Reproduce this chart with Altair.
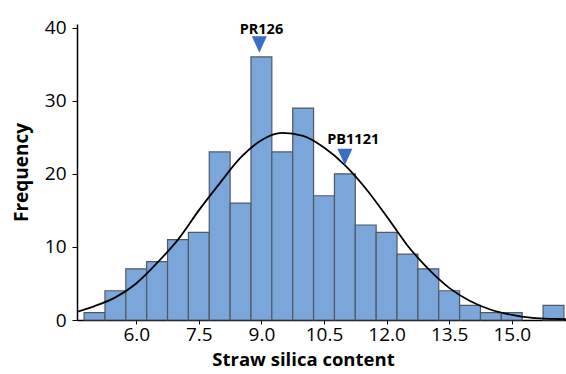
import altair as alt
import pandas as pd

# Histogram bins (centers, width 0.5) and counts
bin_centers = [5.0, 5.5, 6.0, 6.5, 7.0, 7.5, 8.0, 8.5, 9.0, 9.5, 10.0, 10.5,
               11.0, 11.5, 12.0, 12.5, 13.0, 13.5, 14.0, 14.5, 15.0, 15.5, 16.0]
counts = [1, 4, 7, 8, 11, 12, 23, 16, 36, 23, 29, 17,
          20, 13, 12, 9, 7, 4, 2, 1, 1, 0, 2]

# Fitted normal curve
curve_x = [4.58, 5.0, 5.5, 6.0, 6.5, 7.0, 7.5, 8.0, 8.5, 9.0, 9.5, 10.0, 10.5,
           11.0, 11.5, 12.0, 12.5, 13.0, 13.5, 14.0, 14.5, 15.0, 15.5, 16.0, 16.3]
curve_y = [1.1, 1.9, 3.1, 5.0, 7.8, 11.0, 15.0, 18.7, 22.2, 24.6, 25.6, 25.2, 23.6,
           21.2, 18.0, 14.2, 10.2, 7.0, 4.4, 2.6, 1.4, 0.7, 0.3, 0.15, 0.1]

# Annotations
ann_names = ["PR126", "PB1121"]
ann_marker_x = [8.95, 11.0]
ann_marker_y = [37.7, 22.3]
ann_label_x = [9.0, 11.2]
ann_label_y = [39.7, 24.6]

hist = pd.DataFrame({"c": bin_centers, "n": counts})
curve = pd.DataFrame({"x": curve_x, "y": curve_y})
ann = pd.DataFrame({"name": ann_names, "mx": ann_marker_x, "my": ann_marker_y,
                    "lx": ann_label_x, "ly": ann_label_y})

FONT = "Open Sans"
xscale = alt.Scale(domain=[4.58, 16.3], nice=False, zero=False)
yscale = alt.Scale(domain=[0, 40.5], nice=False)

bars = alt.Chart(hist).transform_filter("datum.n > 0").transform_calculate(
    x0="datum.c - 0.25", x1="datum.c + 0.25"
).mark_rect(fill="#7ba6d9", stroke="#4f5965", strokeWidth=1.2).encode(
    x=alt.X("x0:Q", scale=xscale,
            axis=alt.Axis(values=[6.0, 7.5, 9.0, 10.5, 12.0, 13.5, 15.0], format=".1f",
                          title="Straw silica content", grid=False,
                          domainColor="black", domainWidth=1.5, tickColor="black",
                          tickSize=4, labelFontSize=19, labelFont=FONT, labelColor="black",
                          labelPadding=1, titleFont=FONT, titleFontSize=18.5,
                          titleFontWeight="bold", titleColor="black", titlePadding=6,
                          titleX=226)),
    x2="x1:Q",
    y=alt.Y("n:Q", scale=yscale,
            axis=alt.Axis(values=[0, 10, 20, 30, 40], title="Frequency", grid=False,
                          domainColor="black", domainWidth=1.5, tickColor="black",
                          tickSize=5, labelFontSize=19, labelFont=FONT, labelColor="black",
                          labelPadding=6, titleFont=FONT, titleFontSize=19,
                          titleFontWeight="bold", titleColor="black", titlePadding=13)),
    y2=alt.datum(0),
)

line = alt.Chart(curve).mark_line(color="black", strokeWidth=1.8,
                                   interpolate="monotone", clip=True).encode(
    x=alt.X("x:Q", scale=xscale), y=alt.Y("y:Q", scale=yscale)
)

markers = alt.Chart(ann).mark_point(
    shape="M-1,-1.1L1,-1.1L0,1.1Z", filled=True, fill="#3b6fc6", opacity=1,
    size=225, strokeWidth=0
).encode(x=alt.X("mx:Q", scale=xscale), y=alt.Y("my:Q", scale=yscale))

labels = alt.Chart(ann).mark_text(
    font=FONT, fontSize=14.5, fontWeight="bold", color="black", align="center",
    baseline="middle"
).encode(x=alt.X("lx:Q", scale=xscale), y=alt.Y("ly:Q", scale=yscale), text="name:N")

chart = alt.layer(bars, line, markers, labels).properties(
    width=489, height=296,
    padding={"left": 77, "top": 24, "right": 0, "bottom": 54},
    autosize=alt.AutoSizeParams(type="none"),
    background="white",
).configure_view(stroke=None)

chart.save("out.html", embed_options={"renderer": "svg", "actions": False})
